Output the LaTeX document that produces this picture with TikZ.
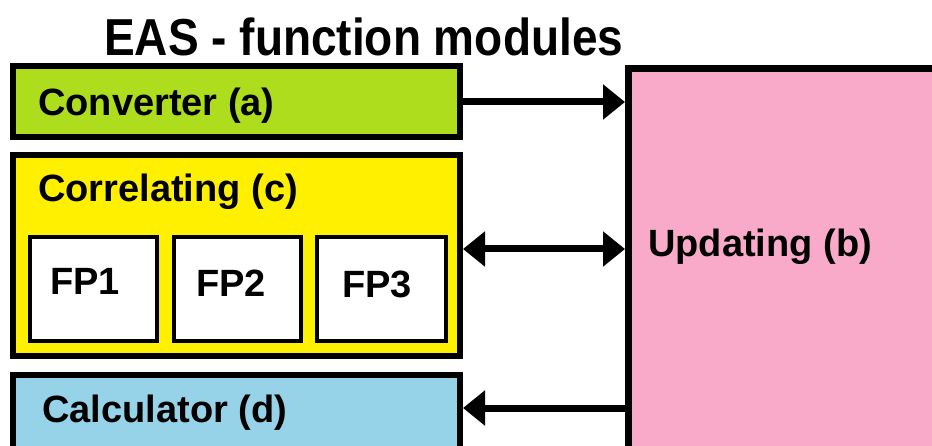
\documentclass[tikz,border=0pt]{standalone}
\usepackage{fontspec}
\setmainfont{Liberation Sans}
\newfontfamily\titlefont[FakeStretch=0.885]{Liberation Sans}
\usetikzlibrary{arrows.meta}
\definecolor{convgreen}{RGB}{174,221,30}
\definecolor{corryellow}{RGB}{255,240,0}
\definecolor{calcblue}{RGB}{150,210,232}
\definecolor{updpink}{RGB}{249,170,200}
\tikzset{
  box/.style={draw=black, rectangle, inner sep=0pt, anchor=north west},
  lbl/.style={anchor=base west, inner sep=0pt, font=\fontsize{38}{40}\selectfont\bfseries},
  tip/.tip={Triangle[length=22pt,width=34pt]},
  conn/.style={line width=7pt, -tip},
  dconn/.style={line width=7pt, tip-tip}
}
\begin{document}
\begin{tikzpicture}[x=1pt,y=1pt]
\clip (0,0) rectangle (932,-446);
\fill[white] (0,0) rectangle (932,-446);
% title
\node[anchor=base west, inner sep=0pt, font=\titlefont\fontsize{52}{54}\selectfont\bfseries] (title) at (104,-56) {EAS - function modules};
% boxes
\node[box, fill=convgreen, line width=6pt, minimum width=447pt, minimum height=71pt] (conv) at (10,-63) {};
\node[box, fill=corryellow, line width=6pt, minimum width=447pt, minimum height=201pt] (corr) at (10,-152) {};
\node[box, fill=white, line width=4pt, minimum width=127pt, minimum height=104pt] (fp1) at (28,-235) {};
\node[box, fill=white, line width=4pt, minimum width=127pt, minimum height=104pt] (fp2) at (172,-235) {};
\node[box, fill=white, line width=4pt, minimum width=129pt, minimum height=104pt] (fp3) at (315,-235) {};
\node[box, fill=calcblue, line width=6pt, minimum width=447pt, minimum height=90pt] (calc) at (10,-372) {};
\node[box, fill=updpink, line width=7pt, minimum width=330pt, minimum height=400pt] (upd) at (625,-65) {};
% labels
\node[lbl] (tconv) at (38,-116) {Converter (a)};
\node[lbl] (tcorr) at (38,-202) {Correlating (c)};
\node[lbl] (tfp1) at (50,-295) {FP1};
\node[lbl] (tfp2) at (196,-297) {FP2};
\node[lbl] (tfp3) at (342,-298) {FP3};
\node[lbl] (tcalc) at (42,-422) {Calculator (d)};
\node[lbl] (tupd) at (648,-257) {Updating (b)};
% connectors
\draw[conn] (conv.east |- 0,-102) -- (upd.west |- 0,-102);
\draw[dconn] (corr.east |- 0,-249) -- (upd.west |- 0,-249);
\draw[conn] (upd.west |- 0,-408) -- (calc.east |- 0,-408);
\end{tikzpicture}
\end{document}
